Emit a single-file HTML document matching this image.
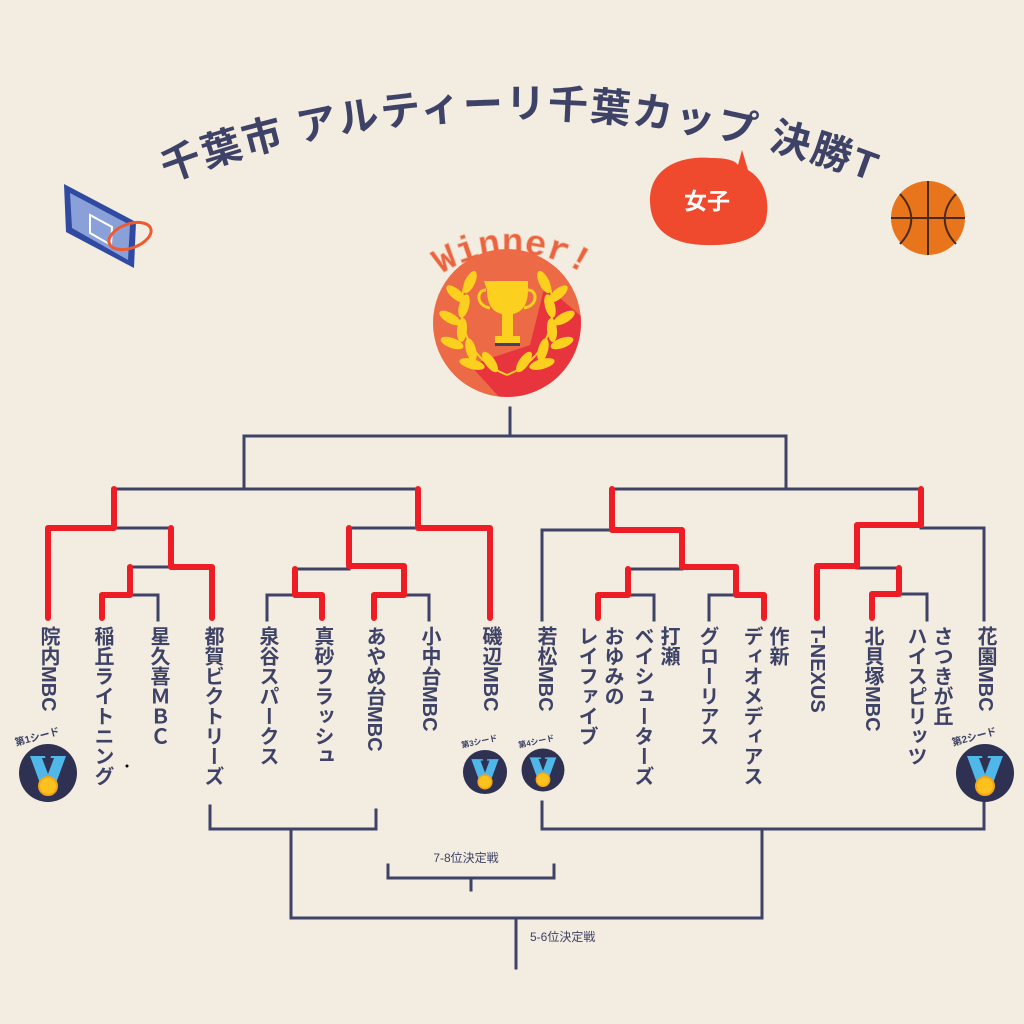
<!DOCTYPE html>
<html><head><meta charset="utf-8"><style>
html,body{margin:0;padding:0;background:#f3ece0;}
#c{position:relative;width:1024px;height:1024px;overflow:hidden;background:#f3ece0;font-family:"Liberation Sans","Noto Sans CJK JP",sans-serif;}
.t{position:absolute;top:626px;writing-mode:vertical-rl;font-size:20px;font-weight:bold;color:#3d4266;line-height:26px;white-space:pre;width:26px;}
svg{position:absolute;left:0;top:0;}
</style></head><body><div id="c">
<svg width="1024" height="1024" viewBox="0 0 1024 1024">
<defs>
<path id="arc" d="M 100,210 A 1000 1000 0 0 1 940,210"/>
<path id="warc" d="M 415,297 A 130 130 0 0 1 610,297"/>
<clipPath id="cc"><circle cx="507" cy="323" r="74"/></clipPath>
</defs>
<text font-family="Liberation Sans,Noto Sans CJK JP,sans-serif" font-weight="bold" font-size="40" fill="#3d4266" letter-spacing="2"><textPath href="#arc" startOffset="50%" text-anchor="middle">千葉市 アルティーリ千葉カップ 決勝T</textPath></text>
<path d="M650,200 C650,168 680,155 712,158 C725,158 735,160 738,165 L742,150 L748,170 C765,180 770,200 766,220 C760,240 735,246 705,245 C668,244 650,228 650,200 Z" fill="#f04a2e"/>
<text x="707" y="209" font-size="23" font-weight="bold" fill="#fff" text-anchor="middle" font-family="Noto Sans CJK JP,sans-serif">女子</text>
<circle cx="928" cy="218" r="37" fill="#e8741c"/>
<g stroke="#4a2a14" stroke-width="2" fill="none"><path d="M891,218 H965"/><path d="M928,181 V255"/><path d="M900,194 C915,210 915,228 900,244"/><path d="M956,194 C941,210 941,228 956,244"/></g>
<polygon points="64,184 136,222 134,268 66,232" fill="#2f4aa0"/>
<polygon points="70,193 130,225 128,260 72,228" fill="#8aa0d8"/>
<polygon points="90,215 112,227 111,245 90,233" fill="none" stroke="#fff" stroke-width="2"/>
<ellipse cx="130" cy="236" rx="22" ry="12" fill="none" stroke="#f05a30" stroke-width="3" transform="rotate(-20 130 236)"/>
<text font-family="Liberation Mono,monospace" font-weight="bold" font-size="36" fill="#e9643f" stroke="#f6b59e" stroke-width="0.8"><textPath href="#warc" startOffset="50%" text-anchor="middle">Winner!</textPath></text>
<circle cx="507" cy="323" r="74" fill="#ec6a45"/>
<polygon points="545,285 620,350 600,420 520,420 470,365 530,345" fill="#e8343d" clip-path="url(#cc)"/>
<g fill="#fbd01e">
<path d="M484,281 H528 V290 C528,305 522,312 513,314 V336 H520 V343 H495 V336 H502 V314 C493,312 487,305 487,290 Z"/>
<path d="M486,290 C476,290 476,306 490,308" fill="none" stroke="#fbd01e" stroke-width="3"/>
<path d="M528,290 C538,290 538,306 524,308" fill="none" stroke="#fbd01e" stroke-width="3"/>
<rect x="495" y="343" width="25" height="3" fill="#3d4266"/>
<g id="lf">
<ellipse cx="470" cy="282" rx="5" ry="12" transform="rotate(25 470 282)"/>
<ellipse cx="456" cy="294" rx="5" ry="12" transform="rotate(-50 456 294)"/>
<ellipse cx="464" cy="306" rx="5" ry="12" transform="rotate(15 464 306)"/>
<ellipse cx="450" cy="318" rx="5" ry="12" transform="rotate(-60 450 318)"/>
<ellipse cx="462" cy="330" rx="5" ry="12" transform="rotate(5 462 330)"/>
<ellipse cx="452" cy="343" rx="5" ry="12" transform="rotate(-70 452 343)"/>
<ellipse cx="471" cy="350" rx="5" ry="12" transform="rotate(-15 471 350)"/>
<ellipse cx="472" cy="364" rx="5" ry="13" transform="rotate(-75 472 364)"/>
<ellipse cx="490" cy="362" rx="5" ry="12" transform="rotate(-35 490 362)"/>
<path d="M466,280 C453,320 468,360 507,375" fill="none" stroke="#fbd01e" stroke-width="2"/>
</g>
<use href="#lf" transform="translate(1014 0) scale(-1 1)"/>
</g>
<g stroke="#3d4266" stroke-width="3" fill="none" stroke-linecap="square">
<path d="M510,408V436 M244,489V436H786V489 M114,489H418 M612,489H921"/>
<path d="M114,528H171 M130,567H171 M130,595H158V620"/>
<path d="M349,528H418 M295,569H349 M267,620V595H295 M404,595H429V620"/>
<path d="M542,620V530H612 M628,569H682 M709,620V595H736 M628,595H654V620"/>
<path d="M857,568H899 M921,528H984V620 M899,594H927V620"/>
<path d="M210,806V829H376V810 M291,829V918H762V829 M542,802V829H984V800 M516,918V968 M388,865V878H554V865 M471,878V890"/>
</g>
<g stroke="#ee1c25" stroke-width="6" fill="none" stroke-linecap="round" stroke-linejoin="round">
<path d="M114,489V528H48V618"/>
<path d="M171,528V567H212V618"/>
<path d="M130,567V595H102V618"/>
<path d="M418,489V528H490V618"/>
<path d="M349,528V566H404V595H374V618"/>
<path d="M295,569V595H322V618"/>
<path d="M612,489V530H682V567H736V595H764V618"/>
<path d="M628,569V595H598V618"/>
<path d="M921,489V525H857V566H817V618"/>
<path d="M899,568V594H872V618"/>
</g>
<text x="466" y="862" font-size="12" fill="#3d4266" text-anchor="middle" font-family="Liberation Sans,Noto Sans CJK JP,sans-serif">7-8位決定戦</text>
<text x="530" y="941" font-size="12" fill="#3d4266" font-family="Liberation Sans,Noto Sans CJK JP,sans-serif">5-6位決定戦</text>
<circle cx="127" cy="766" r="1.5" fill="#000"/>
<g id="m1">
<circle cx="48" cy="773" r="29" fill="#2f3152"/>
<polygon points="30,756 45,756 48,768 51,756 66,756 55,786 41,786" fill="#4fb8e8"/>
<polygon points="42,758 48,774 54,758" fill="#2f3152"/>
<circle cx="48" cy="786" r="9" fill="#fbc21e" stroke="#f5a31a" stroke-width="2"/>
</g>
<use href="#m1" transform="translate(985 773) scale(1) translate(-48 -773)"/>
<use href="#m1" transform="translate(485 772) scale(0.76) translate(-48 -773)"/>
<use href="#m1" transform="translate(543 770) scale(0.74) translate(-48 -773)"/>
<g font-size="10" font-weight="bold" fill="#3d4266" font-family="Liberation Sans,Noto Sans CJK JP,sans-serif">
<text x="16" y="746" transform="rotate(-15 16 746)">第1シード</text>
<text x="953" y="746" transform="rotate(-15 953 746)">第2シード</text>
<text x="462" y="748" font-size="8" transform="rotate(-12 462 748)">第3シード</text>
<text x="519" y="748" font-size="8" transform="rotate(-12 519 748)">第4シード</text>
</g>
</svg>
<div class="t" style="left:35px">院内MBC</div>
<div class="t" style="left:89px">稲丘ライトニング</div>
<div class="t" style="left:145px">星久喜ＭＢＣ</div>
<div class="t" style="left:199px">都賀ビクトリーズ</div>
<div class="t" style="left:254px">泉谷スパークス</div>
<div class="t" style="left:309px">真砂フラッシュ</div>
<div class="t" style="left:361px">あやめ台MBC</div>
<div class="t" style="left:416px">小中台MBC</div>
<div class="t" style="left:477px">磯辺MBC</div>
<div class="t" style="left:532px">若松MBC</div>
<div class="t" style="left:571px;width:54px">おゆみの
レイファイブ</div>
<div class="t" style="left:627px;width:54px">打瀬
ベイシューターズ</div>
<div class="t" style="left:694px">グローリアス</div>
<div class="t" style="left:736px;width:54px">作新
ディオメディアス</div>
<div class="t" style="left:804px">T-NEXUS</div>
<div class="t" style="left:859px">北貝塚MBC</div>
<div class="t" style="left:900px;width:54px">さつきが丘
ハイスピリッツ</div>
<div class="t" style="left:972px">花園MBC</div>
</div></body></html>
